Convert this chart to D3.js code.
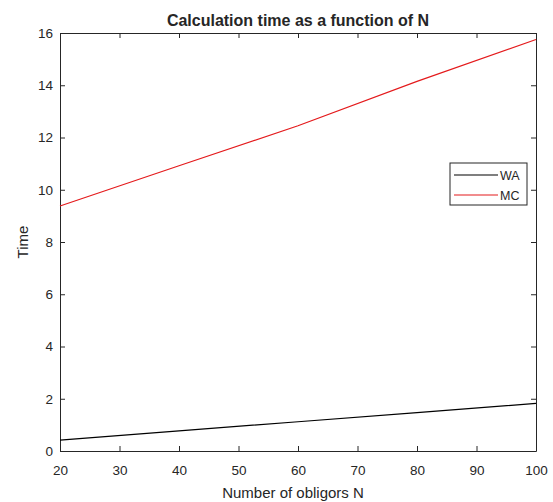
<!DOCTYPE html>
<html>
<head>
<meta charset="utf-8">
<script src="https://cdn.jsdelivr.net/npm/d3@7"></script>
<style>
  body { margin: 0; background: #fff; }
  text { font-family: "Liberation Sans", Arial, sans-serif; fill: #262626; }
</style>
</head>
<body>
<div class="chart"></div>
<script>
var svgWidth = 553;
var svgHeight = 502;

var margin = { top: 33, right: 17, bottom: 51, left: 60 };
var width = svgWidth - margin.left - margin.right;
var height = svgHeight - margin.top - margin.bottom;

// data
var nValues = [20, 40, 60, 80, 100];
var waTimes = [0.42, 0.77, 1.12, 1.47, 1.82];
var mcTimes = [9.38, 10.92, 12.45, 14.15, 15.75];
var xTicks = [20, 30, 40, 50, 60, 70, 80, 90, 100];
var yTicks = [0, 2, 4, 6, 8, 10, 12, 14, 16];
var seriesNames = ["WA", "MC"];
var seriesColors = ["#000000", "#e41a1c"];

var svg = d3.select(".chart")
    .append("svg")
    .attr("width", svgWidth)
    .attr("height", svgHeight);

var chartGroup = svg.append("g")
    .attr("transform", `translate(${margin.left}, ${margin.top})`);

var xScale = d3.scaleLinear().domain([20, 100]).range([0, width]);
var yScale = d3.scaleLinear().domain([0, 16]).range([height, 0]);

// axes, ticks pointing inward like matlab
var bottomAxis = d3.axisBottom(xScale).tickValues(xTicks).tickSizeInner(-5).tickSizeOuter(0).tickPadding(14);
var topAxis = d3.axisTop(xScale).tickValues(xTicks).tickSizeInner(-5).tickSizeOuter(0).tickFormat("");
var leftAxis = d3.axisLeft(yScale).tickValues(yTicks).tickSizeInner(-5).tickSizeOuter(0).tickPadding(7);
var rightAxis = d3.axisRight(yScale).tickValues(yTicks).tickSizeInner(-5).tickSizeOuter(0).tickFormat("");

function styleAxis(g) {
    g.selectAll("path, line").attr("stroke", "#262626").attr("stroke-width", 1);
    g.selectAll("text").style("font-size", "13.5px").attr("fill", "#262626");
}

chartGroup.append("g").attr("transform", `translate(0, ${height})`).call(bottomAxis).call(styleAxis);
chartGroup.append("g").call(topAxis).call(styleAxis);
chartGroup.append("g").call(leftAxis).call(styleAxis);
chartGroup.append("g").attr("transform", `translate(${width}, 0)`).call(rightAxis).call(styleAxis);

var line = d3.line()
    .x((d, i) => xScale(nValues[i]))
    .y(d => yScale(d));

[waTimes, mcTimes].forEach(function(vals, i) {
    chartGroup.append("path")
        .datum(vals)
        .attr("fill", "none")
        .attr("stroke", seriesColors[i])
        .attr("stroke-width", 1.2)
        .attr("d", line);
});

// title and labels
svg.append("text")
    .attr("x", margin.left + width / 2)
    .attr("y", 26)
    .attr("text-anchor", "middle")
    .style("font-size", "16px")
    .style("font-weight", "bold")
    .text("Calculation time as a function of N");

svg.append("text")
    .attr("x", 293)
    .attr("y", 498)
    .attr("text-anchor", "middle")
    .style("font-size", "15px")
    .text("Number of obligors N");

svg.append("text")
    .attr("transform", `translate(28, ${margin.top + height / 2}) rotate(-90)`)
    .attr("text-anchor", "middle")
    .style("font-size", "15px")
    .text("Time");

// legend
var legend = svg.append("g").attr("transform", "translate(450, 163)");
legend.append("rect")
    .attr("width", 77)
    .attr("height", 42)
    .attr("fill", "#fff")
    .attr("stroke", "#262626")
    .attr("stroke-width", 1);

seriesNames.forEach(function(name, i) {
    var y = 12 + i * 20;
    legend.append("line")
        .attr("x1", 4).attr("x2", 48)
        .attr("y1", y).attr("y2", y)
        .attr("stroke", seriesColors[i])
        .attr("stroke-width", 1.2);
    legend.append("text")
        .attr("x", 50).attr("y", y + 4.5)
        .style("font-size", "12.5px")
        .text(name);
});
</script>
</body>
</html>
